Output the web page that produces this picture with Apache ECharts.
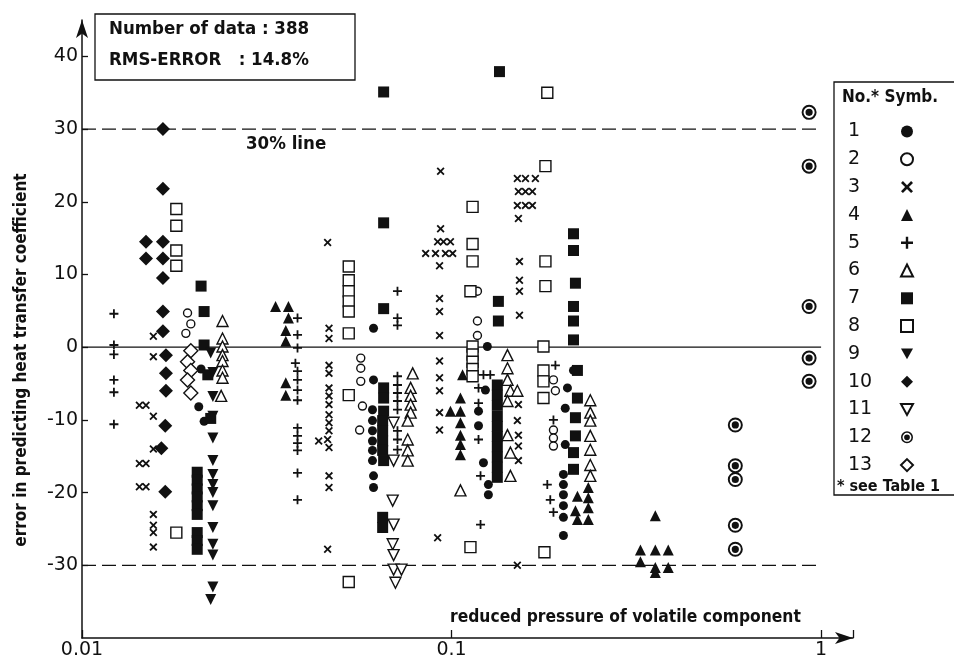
<!DOCTYPE html>
<html>
<head>
<meta charset="utf-8">
<script src="https://cdn.jsdelivr.net/npm/echarts@6/dist/echarts.min.js"></script>
<style>
html,body{margin:0;padding:0;background:#fff;}
#c{width:954px;height:660px;}
</style>
</head>
<body>
<div id="c"></div>
<script>
// ---- data: [reduced pressure, error %] ----
const s1 = [[0.0207,-8.2],[0.0214,-10.2],[0.0210,-3.0],
  [0.0615,2.6],[0.0615,-4.5],[0.0611,-8.6],[0.0611,-10.1],[0.0611,-11.5],[0.0611,-12.9],[0.0611,-14.2],[0.0611,-15.6],[0.0615,-17.7],[0.0615,-19.3],
  [0.1250,0.1],[0.1235,-5.9],[0.1183,-8.8],[0.1183,-10.8],[0.1220,-15.9],[0.1258,-18.9],[0.1258,-20.3],
  [0.2138,-3.2],[0.2059,-5.6],[0.2031,-8.4],[0.2031,-13.4],[0.2008,-17.5],[0.2008,-18.9],[0.2008,-20.3],[0.2008,-21.8],[0.2008,-23.4],[0.2008,-25.9]];
const s2 = [[0.0193,4.7],[0.0197,3.2],[0.0191,1.9],
  [0.0568,-1.5],[0.0568,-2.9],[0.0568,-4.7],[0.0574,-8.1],[0.0564,-11.4],
  [0.1175,7.7],[0.1175,3.6],[0.1175,1.6],
  [0.1887,-4.5],[0.1910,-6.0],[0.1887,-11.4],[0.1887,-12.5],[0.1887,-13.6]];
const s3 = [[0.0156,1.5],[0.0156,-1.3],[0.0149,-8.0],[0.0143,-8.0],[0.0156,-9.5],[0.0156,-14.0],[0.0149,-16.0],[0.0143,-16.0],[0.0149,-19.2],[0.0143,-19.2],[0.0156,-23.0],[0.0156,-24.5],[0.0156,-25.5],[0.0156,-27.5],
  [0.0466,2.6],[0.0466,1.2],[0.0466,-2.5],[0.0466,-3.6],[0.0466,-5.6],[0.0466,-6.7],[0.0466,-7.9],[0.0466,-9.3],[0.0466,-10.4],[0.0466,-11.5],[0.0462,-12.7],[0.0466,-13.8],[0.0437,-12.9],[0.0466,-17.7],[0.0466,-19.3],[0.0462,-27.8],[0.0462,14.4],
  [0.0928,11.2],[0.0928,6.7],[0.0928,4.9],[0.0928,1.6],[0.0928,-1.9],[0.0928,-4.2],[0.0928,-6.0],[0.0928,-9.0],[0.0928,-11.4],[0.0917,-26.2],[0.0934,24.2],[0.0934,16.3],
  [0.0917,14.5],[0.0951,14.5],[0.0993,14.5],[0.0851,12.9],[0.0905,12.9],[0.0963,12.9],[0.1007,12.9],
  [0.1517,-7.9],[0.1507,-10.1],[0.1517,-12.1],[0.1517,-13.6],[0.1517,-15.6],[0.1507,-30.0],
  [0.1507,23.2],[0.1585,23.2],[0.1686,23.2],[0.1517,21.4],[0.1585,21.4],[0.1655,21.4],[0.1507,19.5],[0.1585,19.5],[0.1655,19.5],[0.1517,17.7],[0.1527,11.8],[0.1527,9.2],[0.1527,7.7],[0.1527,4.4]];
const s4 = [[0.0334,5.6],[0.0362,5.6],[0.0362,4.0],[0.0356,2.3],[0.0356,0.8],[0.0356,-4.9],[0.0356,-6.6],
  [0.1071,-3.8],[0.0993,-8.8],[0.1057,-7.0],[0.1057,-8.8],[0.1057,-10.4],[0.1057,-12.1],[0.1057,-13.4],[0.1057,-14.8],
  [0.2345,-19.3],[0.2345,-20.7],[0.2345,-22.1],[0.2345,-23.7],[0.2164,-22.5],[0.2191,-23.7],[0.2191,-20.5],
  [0.3560,-23.2],[0.3245,-27.9],[0.3560,-27.9],[0.3858,-27.9],[0.3245,-29.5],[0.3560,-30.3],[0.3858,-30.3],[0.3560,-31.0]];
const s5 = [[0.0122,4.6],[0.0122,0.3],[0.0122,-1.0],[0.0122,-4.5],[0.0122,-6.2],[0.0122,-10.6],
  [0.0383,4.0],[0.0383,1.7],[0.0383,-0.1],[0.0378,-2.2],[0.0383,-3.3],[0.0383,-4.5],[0.0383,-5.9],[0.0383,-7.3],[0.0383,-11.1],[0.0383,-12.2],[0.0383,-13.2],[0.0383,-14.2],[0.0383,-17.3],[0.0383,-21.0],
  [0.0714,7.7],[0.0714,4.0],[0.0714,3.0],[0.0714,-4.0],[0.0714,-5.2],[0.0714,-6.3],[0.0714,-7.4],[0.0714,-8.6],[0.0714,-11.5],[0.0714,-12.7],[0.0714,-14.1],
  [0.1220,-3.8],[0.1273,-3.8],[0.1183,-5.6],[0.1183,-7.7],[0.1183,-12.7],[0.1198,-17.7],[0.1198,-24.4],
  [0.1887,-10.0],[0.1910,-2.5],[0.1816,-18.9],[0.1850,-21.0],[0.1887,-22.7]];
const s6 = [[0.0240,3.6],[0.0240,1.2],[0.0240,0.1],[0.0240,-1.1],[0.0240,-1.9],[0.0240,-3.2],[0.0240,-4.2],[0.0238,-6.7],
  [0.0785,-3.6],[0.0775,-5.6],[0.0775,-6.7],[0.0775,-7.9],[0.0775,-9.0],[0.0761,-10.1],[0.0761,-12.7],[0.0761,-14.2],[0.0761,-15.6],
  [0.1057,-19.7],[0.1417,-1.1],[0.1417,-2.9],[0.1417,-4.5],[0.1443,-6.0],[0.1507,-6.0],[0.1417,-7.4],[0.1417,-12.1],[0.1443,-14.5],[0.1443,-17.7],
  [0.2374,-7.3],[0.2374,-9.0],[0.2374,-10.1],[0.2374,-12.2],[0.2374,-14.1],[0.2374,-16.2],[0.2374,-17.7]];
const s7 = [[0.0210,8.4],[0.0214,4.9],[0.0214,0.3],[0.0219,-3.8],[0.0223,-9.8],
  [0.0205,-17.2],[0.0205,-18.3],[0.0205,-19.5],[0.0205,-20.6],[0.0205,-21.8],[0.0205,-23.0],[0.0205,-25.5],[0.0205,-26.6],[0.0205,-27.8],
  [0.0655,5.3],[0.0655,35.1],[0.0655,17.1],[0.0655,-5.6],[0.0655,-7.0],[0.0655,-8.8],[0.0651,-10.1],[0.0651,-11.5],[0.0651,-12.9],[0.0651,-14.2],[0.0655,-15.6],[0.0651,-23.4],[0.0651,-24.8],
  [0.1339,6.3],[0.1339,3.6],[0.1330,-5.2],[0.1330,-6.6],[0.1330,-8.0],[0.1330,-9.5],[0.1330,-10.9],[0.1330,-12.3],[0.1330,-13.7],[0.1330,-15.1],[0.1330,-16.5],[0.1330,-17.9],[0.1348,37.9],
  [0.2138,15.6],[0.2138,13.3],[0.2164,8.8],[0.2138,5.6],[0.2138,3.6],[0.2138,1.0],[0.2191,-3.2],[0.2191,-7.0],[0.2164,-9.7],[0.2164,-12.2],[0.2138,-14.5],[0.2138,-16.8]];
const s8 = [[0.0180,19.0],[0.0180,16.7],[0.0180,13.3],[0.0180,11.2],[0.0180,-25.5],
  [0.0527,11.1],[0.0527,9.2],[0.0527,7.7],[0.0527,6.3],[0.0527,4.9],[0.0527,1.9],[0.0527,-6.6],[0.0527,-32.3],
  [0.1140,19.3],[0.1140,14.2],[0.1140,11.8],[0.1125,7.7],[0.1140,0.1],[0.1140,-1.0],[0.1140,-2.0],[0.1140,-3.0],[0.1140,-4.0],[0.1125,-27.5],
  [0.1795,24.9],[0.1795,11.8],[0.1795,8.4],[0.1773,0.1],[0.1773,-3.2],[0.1773,-4.7],[0.1773,-7.0],[0.1784,-28.2],[0.1816,35.0]];
const s9 = [[0.0223,-0.8],[0.0226,-3.5],[0.0226,-6.8],[0.0226,-9.5],[0.0226,-12.5],[0.0226,-15.6],[0.0226,-17.5],[0.0226,-18.9],[0.0226,-20.0],[0.0226,-21.8],[0.0226,-24.8],[0.0226,-27.1],[0.0226,-28.6],[0.0226,-33.0],[0.0223,-34.7]];
const s10 = [[0.01656,30.0],[0.01656,21.8],[0.0149,14.5],[0.01656,14.5],[0.0149,12.2],[0.01656,12.2],[0.01656,9.5],[0.01656,4.9],[0.01656,2.2],[0.01687,-1.1],[0.01687,-3.6],[0.01687,-6.0],[0.0168,-10.8],[0.0164,-13.9],[0.0168,-19.9]];
const s11 = [[0.0697,-10.4],[0.0697,-15.6],[0.0693,-21.1],[0.0697,-24.4],[0.0693,-27.1],[0.0697,-28.6],[0.0697,-30.6],[0.0732,-30.6],[0.0705,-32.4]];
const s12 = [[0.586,-10.7],[0.586,-16.3],[0.586,-18.2],[0.586,-24.5],[0.586,-27.8],[0.928,-1.5],[0.928,-4.7],[0.928,32.3],[0.928,24.9],[0.928,5.6]];
const s13 = [[0.0197,-0.5],[0.0193,-2.0],[0.0197,-3.2],[0.0193,-4.5],[0.0197,-6.3]];

const zeroLine = [[0.01,0],[1,0]];
const upperLine = [[0.01,30],[1,30]];
const lowerLine = [[0.01,-30],[1,-30]];
const seriesNames = ['1','2','3','4','5','6','7','8','9','10','11','12','13'];
const yTicks = [-30,-20,-10,0,10,20,30,40];

const INK = '#111';
const F = 'DejaVu Sans Condensed';
const P_X = 'path://M0,1.6L1.6,0L5,3.4L8.4,0L10,1.6L6.6,5L10,8.4L8.4,10L5,6.6L1.6,10L0,8.4L3.4,5Z';
const P_PLUS = 'path://M4,0H6V4H10V6H6V10H4V6H0V4H4Z';
const P_DOWN = 'path://M0,0L10,0L5,9Z';
const P_RING = 'path://M0,10A10,10,0,1,1,20,10A10,10,0,1,1,0,10ZM2.6,10A7.4,7.4,0,1,0,17.4,10A7.4,7.4,0,1,0,2.6,10ZM5.2,10A4.8,4.8,0,1,1,14.8,10A4.8,4.8,0,1,1,5.2,10Z';

const filled = {color: INK, opacity: 1};
const open = {color: '#fff', borderColor: INK, borderWidth: 1.4, opacity: 1};

function sc(name, data, symbol, size, style) {
  return {name, type: 'scatter', data, symbol, symbolSize: size, itemStyle: style, z: 3, silent: true,
    emphasis: {disabled: true}};
}
function refLine(data, type) {
  return {type: 'line', data, symbol: 'none', silent: true, z: 1,
    lineStyle: {color: INK, width: 1.3, type: type}};
}

const chart = echarts.init(document.getElementById('c'), null, {renderer: 'canvas'});
chart.setOption({
  backgroundColor: '#fff',
  animation: false,
  grid: {left: 82, right: 101, top: 20, bottom: 20},
  xAxis: {
    type: 'log', logBase: 10, min: 0.01, max: 1.22,
    axisLine: {onZero: false, lineStyle: {color: INK, width: 1.5}, symbol: ['none', 'arrow'], symbolSize: [9, 18], symbolOffset: [0, 0]},
    axisTick: {inside: true, length: 8, lineStyle: {color: INK, width: 1.3}},
    axisLabel: {color: INK, fontFamily: 'DejaVu Sans', fontSize: 19, margin: 3,
      formatter: v => (v > 1.05 ? '' : String(Math.round(v * 1000) / 1000))},
    splitLine: {show: false}, minorTick: {show: false}
  },
  yAxis: {
    type: 'value', min: -40, max: 45, interval: 10,
    axisLine: {onZero: false, lineStyle: {color: INK, width: 1.5}, symbol: ['none', 'arrow'], symbolSize: [9, 18], symbolOffset: [0, 0]},
    axisTick: {inside: true, length: 6, customValues: yTicks, lineStyle: {color: INK, width: 1.3}},
    axisLabel: {color: INK, fontFamily: 'DejaVu Sans', fontSize: 19, margin: 4, customValues: yTicks,
      formatter: v => (yTicks.indexOf(v) >= 0 ? String(v) : '')},
    splitLine: {show: false}
  },
  legend: {
    orient: 'vertical', left: 848, top: 122, padding: 0, align: 'right',
    itemWidth: 12, itemHeight: 12, itemGap: 8.8, selectedMode: false,
    data: seriesNames,
    formatter: '{n|{name}}',
    textStyle: {color: INK, rich: {n: {width: 48, align: 'left', fontSize: 19, lineHeight: 20, fontFamily: 'DejaVu Sans', color: INK}}}
  },
  series: [
    refLine(zeroLine, 'solid'),
    refLine(upperLine, [14, 6]),
    refLine(lowerLine, [14, 6]),
    sc('1', s1, 'circle', 9, filled),
    sc('2', s2, 'circle', 8, open),
    sc('3', s3, P_X, 8, filled),
    sc('4', s4, 'triangle', 11, filled),
    sc('5', s5, P_PLUS, 9, filled),
    sc('6', s6, 'triangle', 11, open),
    sc('7', s7, 'rect', 11, filled),
    sc('8', s8, 'rect', 11, open),
    sc('9', s9, P_DOWN, 11, filled),
    sc('10', s10, 'diamond', 14, filled),
    sc('11', s11, P_DOWN, 11, open),
    sc('12', s12, P_RING, 15, filled),
    sc('13', s13, 'diamond', 14, open)
  ],
  graphic: [
    {type: 'rect', shape: {x: 95, y: 14, width: 260, height: 66}, style: {fill: 'none', stroke: INK, lineWidth: 1.3}, z: 10},
    {type: 'text', x: 109, y: 29, style: {text: 'Number of data : 388', font: 'bold 18.5px "' + F + '"', fill: INK, verticalAlign: 'middle'}, z: 10},
    {type: 'text', x: 109, y: 60, style: {text: 'RMS-ERROR   : 14.8%', font: 'bold 18.5px "' + F + '"', fill: INK, verticalAlign: 'middle'}, z: 10},
    {type: 'text', x: 246, y: 144, style: {text: '30% line', font: 'bold 18.5px "' + F + '"', fill: INK, verticalAlign: 'middle'}, z: 10},
    {type: 'text', x: 450, y: 618, style: {text: 'reduced pressure of volatile component', font: 'bold 17.3px "' + F + '"', fill: INK, verticalAlign: 'middle'}, z: 10},
    {type: 'text', x: 22, y: 360, rotation: Math.PI / 2, style: {text: 'error in predicting heat transfer coefficient', font: 'bold 17px "' + F + '"', fill: INK, align: 'center', verticalAlign: 'middle'}, z: 10},
    {type: 'rect', shape: {x: 834, y: 82, width: 140, height: 413}, style: {fill: 'none', stroke: INK, lineWidth: 1.3}, z: 10},
    {type: 'text', x: 842, y: 98, style: {text: 'No.* Symb.', font: 'bold 17px "' + F + '"', fill: INK, verticalAlign: 'middle'}, z: 10},
    {type: 'text', x: 837, y: 487, style: {text: '* see Table 1', font: 'bold 16px "' + F + '"', fill: INK, verticalAlign: 'middle'}, z: 10}
  ]
});
</script>
</body>
</html>
